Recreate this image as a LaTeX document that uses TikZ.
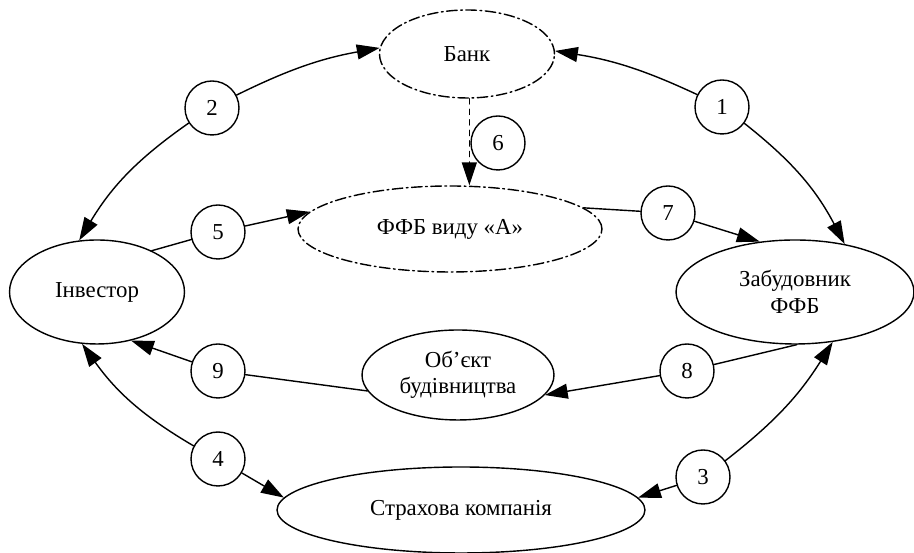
\documentclass[tikz,border=0pt]{standalone}
\usepackage{fontspec}
\setmainfont{Liberation Serif}
\usepackage{tikz}
\usetikzlibrary{arrows.meta,shapes.geometric}
\tikzset{>={Triangle[length=13pt,width=8.5pt]}}

\begin{document}
\begin{tikzpicture}[x=0.02cm,y=0.02cm,line cap=round,line join=round,
  party/.style={draw,ellipse,line width=0.8pt,inner sep=0pt,align=center,font=\fontsize{13}{15}\selectfont},
  dotoval/.style={party,dash pattern=on 6pt off 2pt on 1pt off 2pt},
  num/.style={draw,circle,line width=0.8pt,minimum size=1.08cm,inner sep=0pt,font=\fontsize{13}{15}\selectfont},
  link/.style={line width=0.8pt}]
\useasboundingbox (0,0) rectangle (914,553);
% the parties
\node[dotoval,minimum width=3.5cm,minimum height=1.76cm] (bank) at (467,499) {Банк};
\node[dotoval,minimum width=6.08cm,minimum height=1.72cm] (ffb) at (450,324) {ФФБ виду «А»};
\node[party,minimum width=3.5cm,minimum height=2.08cm] (inv) at (97,261) {Інвестор};
\node[party,minimum width=4.76cm,minimum height=2.08cm] (zab) at (795,261) {Забудовник\\ФФБ};
\node[party,minimum width=3.84cm,minimum height=1.8cm] (obj) at (458,178) {Об’єкт\\будівництва};
\node[party,minimum width=7.36cm,minimum height=1.72cm] (ins) at (461,43) {Страхова компанія};
% numbered links
\node[num] (n1) at (722,446) {1};
\node[num] (n2) at (212,445) {2};
\node[num] (n3) at (703,76) {3};
\node[num] (n4) at (218,94) {4};
\node[num] (n5) at (218,321) {5};
\node[num] (n6) at (498,410) {6};
\node[num] (n7) at (668,340) {7};
\node[num] (n8) at (687,182) {8};
\node[num] (n9) at (218,182) {9};
% connectors
\draw[link,->] (n2) to[bend left=8] (bank.176);
\draw[link,->] (n2) to[bend right=12] (inv.109);
\draw[link,->] (n1) to[bend right=8] (bank.2);
\draw[link,->] (n1) to[bend left=12] (zab.44);
\draw[link,->] (n4) to[bend left=12] (inv.-106);
\draw[link,->] (n4) -- (ins.176);
\draw[link,->] (n3) to[bend right=10] (zab.-53);
\draw[link,->] (n3) -- (ins.4);
\draw[link,->,dashed] (bank.-87) -- (bank.-87 |- ffb.north);
\draw[link] (inv.37) -- (n5);
\draw[link,->] (n5) -- (ffb.173);
\draw[link] (ffb.9) -- (n7);
\draw[link,->] (n7) -- (zab.125);
\draw[link] (zab.-88) -- (n8);
\draw[link,->] (n8) -- (obj.-13);
\draw[link] (obj.190) -- (n9);
\draw[link,->] (n9) -- (inv.-55);
\end{tikzpicture}
\end{document}
